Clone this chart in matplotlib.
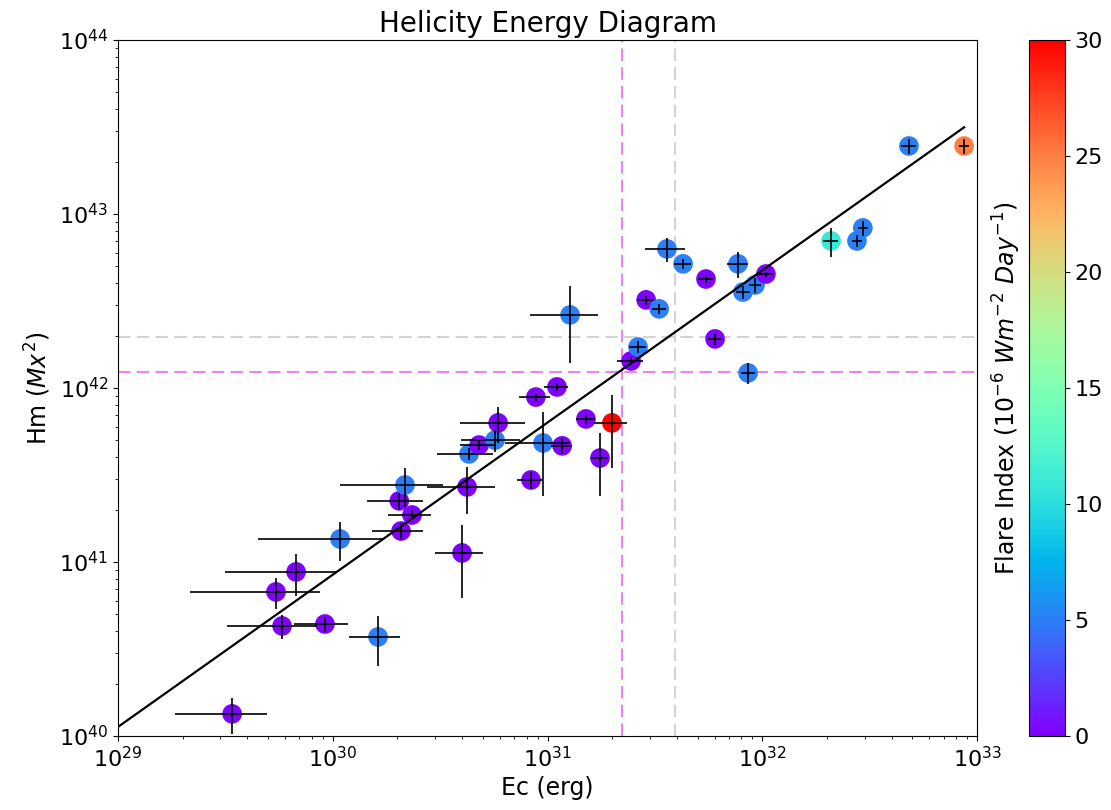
import numpy as np
import matplotlib
matplotlib.use('Agg')
import matplotlib.pyplot as plt

plt.rcParams['font.family'] = ['DejaVu Sans']

# free energy Ec (erg) and helicity Hm (Mx^2) per region, with 1-sigma errors
ec = np.array([3.40e29, 1.625e30, 9.2e29, 5.81e29, 5.44e29, 6.75e29, 1.082e30, 2.08e30,
               2.34e30, 2.04e30, 2.17e30, 4.22e30, 4.00e30, 4.31e30, 4.80e30, 5.70e30,
               5.89e30, 9.53e30, 8.38e30, 8.83e30, 1.107e31, 1.17e31, 1.51e31, 1.756e31,
               1.995e31, 1.274e31, 2.45e31, 2.64e31, 2.88e31, 3.31e31, 3.60e31, 4.28e31,
               5.47e31, 6.03e31, 7.71e31, 8.13e31, 9.25e31, 1.04e32, 8.59e31, 2.09e32,
               2.76e32, 2.94e32, 4.82e32, 8.71e32])
hm = np.array([1.34e40, 3.71e40, 4.40e40, 4.29e40, 6.73e40, 8.77e40, 1.355e41, 1.507e41,
               1.862e41, 2.245e41, 2.77e41, 2.70e41, 1.127e41, 4.18e41, 4.70e41, 5.02e41,
               6.30e41, 4.83e41, 2.96e41, 8.87e41, 1.014e42, 4.65e41, 6.64e41, 3.96e41,
               6.30e41, 2.63e42, 1.43e42, 1.72e42, 3.21e42, 2.85e42, 6.30e42, 5.17e42,
               4.23e42, 1.915e42, 5.17e42, 3.56e42, 3.91e42, 4.52e42, 1.22e42, 7.00e42,
               7.00e42, 8.32e42, 2.46e43, 2.46e43])
ec_err = np.array([1.55e29, 0.43e30, 2.6e29, 2.6e29, 3.28e29, 3.6e29, 0.633e30, 0.553e30,
                   0.53e30, 0.6e30, 1.09e30, 1.48e30, 1.01e30, 1.25e30, 0.88e30, 1.75e30,
                   1.98e30, 3.2e30, 1.15e30, 1.43e30, 0.14e31, 0.13e31, 0.15e31, 0.158e31,
                   0.35e31, 0.446e31, 0.34e31, 0.24e31, 0.26e31, 0.26e31, 0.77e31, 0.38e31,
                   0.43e31, 0.47e31, 0.87e31, 0.6e31, 0.6e31, 0.09e32, 0.65e31, 0.17e32,
                   0.15e32, 0.16e32, 0.38e32, 0.48e32])
hm_err = np.array([0.32e40, 1.19e40, 0.43e40, 0.67e40, 1.37e40, 2.36e40, 0.341e41, 0.17e41,
                   0.13e41, 0.25e41, 0.70e41, 0.82e41, 0.506e41, 0.34e41, 0.3e41, 0.71e41,
                   1.49e41, 2.45e41, 0.33e41, 0.4e41, 0.05e42, 0.5e41, 0.4e41, 1.55e41,
                   2.83e41, 1.23e42, 0.08e42, 0.14e42, 0.2e42, 0.2e42, 0.99e42, 0.36e42,
                   0.2e42, 0.15e42, 0.89e42, 0.3e42, 0.4e42, 0.15e42, 0.17e42, 1.32e42,
                   0.56e42, 0.8e42, 0.24e43, 0.24e43])
flare = np.array([0, 5, 0, 0, 0, 0, 5, 0, 0, 0, 5, 0, 0, 5, 0, 5,
                  0, 5, 0, 0, 0, 0, 0, 0, 30, 5, 0, 5, 0, 5, 5, 5,
                  0, 0, 5, 5, 5, 0, 5, 11, 5, 5, 5, 25])

# power-law fit log10(Hm) = a + b*(log10(Ec) - 29)
fit_a = 40.052
fit_b = 0.8747

# threshold lines
ec_thr = [2.22e31, 3.93e31]
hm_thr = [1.24e42, 1.96e42]

fig = plt.figure(figsize=(11.11, 8.10), dpi=100)
ax = fig.add_axes([0.1062, 0.0914, 0.7732, 0.8592])
cax = fig.add_axes([0.9262, 0.0914, 0.0324, 0.8592])

ax.set_xscale('log')
ax.set_yscale('log')

sc = ax.scatter(ec, hm, c=flare, cmap='rainbow', vmin=0, vmax=30, s=200,
                linewidths=0, zorder=2)
ax.errorbar(ec, hm, xerr=ec_err, yerr=hm_err, fmt='none', ecolor='k',
            elinewidth=1.2, zorder=3)

fit_x = np.logspace(29, np.log10(ec.max()), 100)
fit_y = 10 ** (fit_a + fit_b * (np.log10(fit_x) - 29))
ax.plot(fit_x, fit_y, color='k', lw=1.6, zorder=4)

ax.axvline(ec_thr[0], color='violet', ls=(0, (6, 3)), lw=1.5, zorder=1)
ax.axhline(hm_thr[0], color='violet', ls=(0, (6, 3)), lw=1.5, zorder=1)
ax.axvline(ec_thr[1], color='lightgray', ls=(0, (6, 3)), lw=1.5, zorder=1)
ax.axhline(hm_thr[1], color='lightgray', ls=(0, (6, 3)), lw=1.5, zorder=1)

ax.set_xlim(1e29, 1e33)
ax.set_ylim(1e40, 1e44)
ax.tick_params(labelsize=16)
ax.set_xlabel('Ec (erg)', fontsize=17)
ax.set_ylabel(r'Hm ($Mx^2$)', fontsize=17)
ax.set_title('Helicity Energy Diagram', fontsize=20)

cbar = fig.colorbar(sc, cax=cax)
cbar.ax.tick_params(labelsize=16)
cbar.set_label(r'Flare Index ($10^{-6}$ $Wm^{-2}$ $Day^{-1}$)', fontsize=17)
cbar.ax.yaxis.set_label_position('left')

fig.savefig('out.png', dpi=100)
